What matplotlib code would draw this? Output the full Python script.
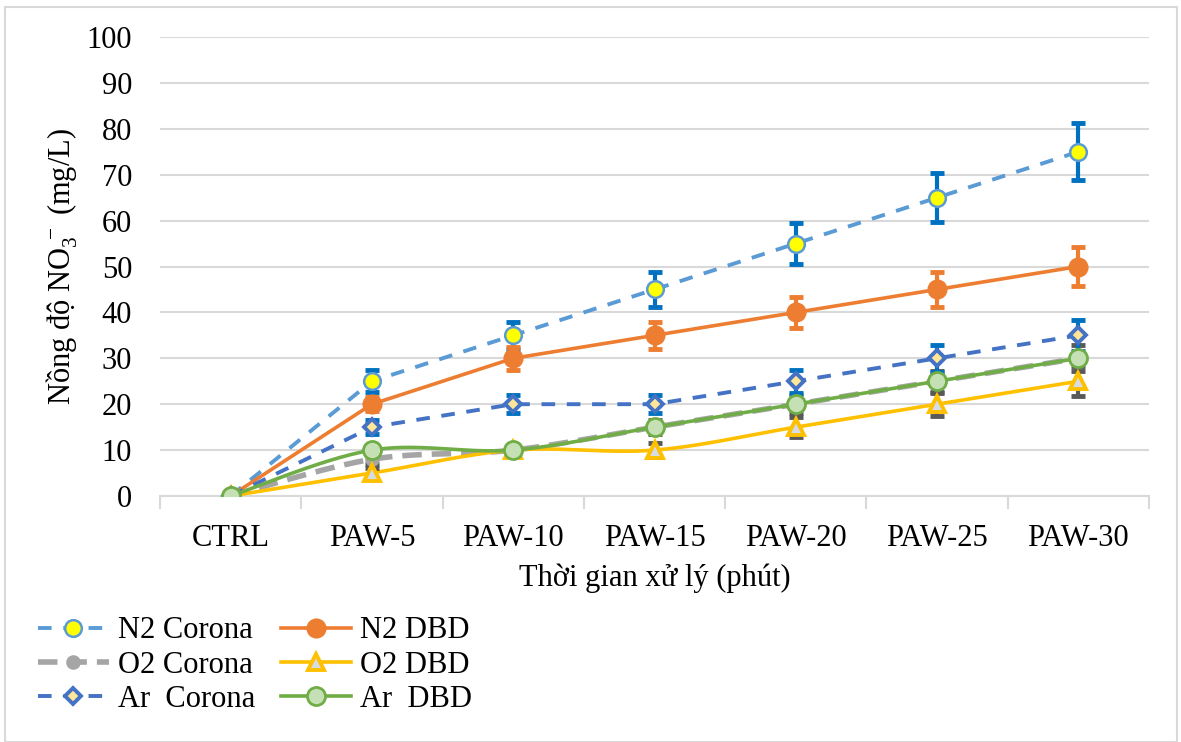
import numpy as np
import matplotlib
matplotlib.use("Agg")
import matplotlib.pyplot as plt
from matplotlib.patches import Rectangle
from matplotlib.lines import Line2D

plt.rcParams['font.family'] = ['Liberation Serif', 'DejaVu Serif']
plt.rcParams['mathtext.fontset'] = 'custom'
plt.rcParams['mathtext.rm'] = 'Liberation Serif'

categories = ["CTRL", "PAW-5", "PAW-10", "PAW-15", "PAW-20", "PAW-25", "PAW-30"]

n2_corona = [0, 25, 35, 45, 55, 65, 75]
n2_corona_err = [0, 2.4, 3.0, 3.8, 4.5, 5.4, 6.2]
n2_dbd = [0, 20, 30, 35, 40, 45, 50]
n2_dbd_err = [0, 1.5, 2.5, 3.0, 3.3, 3.8, 4.2]
o2_corona = [0, 8, 10, 15, 20, 25, 30]
o2_corona_err = [0, 1.0, 1.2, 1.5, 2.0, 2.3, 2.8]
o2_dbd = [0, 5, 10, 10, 15, 20, 25]
o2_dbd_err = [0, 1.0, 1.0, 1.5, 2.2, 2.5, 3.3]
ar_corona = [0, 15, 20, 20, 25, 30, 35]
ar_corona_err = [0, 1.5, 2.0, 2.0, 2.5, 2.9, 3.4]
ar_dbd = [0, 10, 10, 15, 20, 25, 30]

yticks = [0, 10, 20, 30, 40, 50, 60, 70, 80, 90, 100]

FS = 22


def smooth(xs, ys, n=30):
    xs = np.asarray(xs, float)
    ys = np.asarray(ys, float)
    P = np.column_stack([xs, ys])
    out = [P[0]]
    for i in range(len(P) - 1):
        p0 = P[i - 1] if i > 0 else P[i]
        p1 = P[i]
        p2 = P[i + 1]
        p3 = P[i + 2] if i + 2 < len(P) else P[i + 1]
        c1 = p1 + (p2 - p0) / 6.0
        c2 = p2 - (p3 - p1) / 6.0
        t = np.linspace(0, 1, n)[1:, None]
        seg = ((1 - t) ** 3) * p1 + 3 * ((1 - t) ** 2) * t * c1 + 3 * (1 - t) * t ** 2 * c2 + t ** 3 * p2
        out.extend(seg)
    out = np.array(out)
    return out[:, 0], out[:, 1]


W, H = 1181, 742
fig = plt.figure(figsize=(W / 100, H / 100), dpi=100)
fig.patches.append(Rectangle((5 / W, 0), (1177 - 5) / W, 1 - 7 / H, transform=fig.transFigure,
                             fill=False, edgecolor='#D9D9D9', lw=1.5))
ax = fig.add_axes([160 / W, 1 - 496 / H, (1149 - 160) / W, (496 - 37) / H])

x = np.arange(len(categories))

series = [
    dict(y=n2_corona, err=n2_corona_err, label='N2 Corona', color='#5B9BD5', ls=(0, (3.5, 3)), lw=2.8,
         marker='o', ms=12, mfc='#FFFF00', mec='#5B9BD5', mew=1.8, ecolor='#0070C0', smooth=False),
    dict(y=n2_dbd, err=n2_dbd_err, label='N2 DBD', color='#ED7D31', ls='-', lw=2.6,
         marker='o', ms=13, mfc='#ED7D31', mec='#ED7D31', mew=1.5, ecolor='#ED7D31', smooth=False),
    dict(y=o2_corona, err=o2_corona_err, label='O2 Corona', color='#A5A5A5', ls=(0, (3.5, 1.8)), lw=4,
         marker='o', ms=9, mfc='#A5A5A5', mec='#A5A5A5', mew=1.5, ecolor='#595959', smooth=True),
    dict(y=o2_dbd, err=o2_dbd_err, label='O2 DBD', color='#FFC000', ls='-', lw=2.6,
         marker='^', ms=12, mfc='#D6DCE5', mec='#FFC000', mew=2.8, ecolor='#595959', smooth=True),
    dict(y=ar_corona, err=ar_corona_err, label='Ar  Corona', color='#4472C4', ls=(0, (3.5, 3)), lw=2.8,
         marker='D', ms=8, mfc='#FFE699', mec='#4472C4', mew=2.8, ecolor='#0070C0', smooth=False),
    dict(y=ar_dbd, err=None, label='Ar  DBD', color='#70AD47', ls='-', lw=2.6,
         marker='o', ms=13, mfc='#C5E0B4', mec='#70AD47', mew=2.0, ecolor='#70AD47', smooth=True),
]

handles = []
for i, s in enumerate(series):
    z = 3 + i
    if s['smooth']:
        sx, sy = smooth(x, s['y'])
    else:
        sx, sy = x, s['y']
    ax.plot(sx, sy, color=s['color'], ls=s['ls'], lw=s['lw'], zorder=z, solid_capstyle='butt',
            dash_capstyle='butt')
    if s['err'] is not None:
        ax.errorbar(x[1:], s['y'][1:], yerr=s['err'][1:], fmt='none', ecolor=s['ecolor'],
                    elinewidth=3, capsize=5, capthick=3.5, zorder=z)
    ax.plot(x, s['y'], ls='none', marker=s['marker'], ms=s['ms'], mfc=s['mfc'], mec=s['mec'],
            mew=s['mew'], zorder=z + 0.5)
    handles.append(Line2D([], [], color=s['color'], ls=s['ls'], lw=s['lw'], marker=s['marker'],
                          ms=s['ms'], mfc=s['mfc'], mec=s['mec'], mew=s['mew'], label=s['label']))

ax.set_xlim(-0.5, len(categories) - 0.5)
ax.set_ylim(0, 100)
ax.set_yticks(yticks)
ax.set_yticklabels([str(v) for v in yticks], fontsize=FS)
ax.set_xticks(x)
ax.set_xticklabels(categories, fontsize=FS)
ax.tick_params(axis='y', length=0, pad=20)
ax.tick_params(axis='x', length=0, pad=20)
ax.set_xticks(np.arange(-0.5, len(categories), 1), minor=True)
ax.tick_params(axis='x', which='minor', length=9, color='#D9D9D9', width=1.5)
ax.grid(axis='y', color='#D9D9D9', lw=1.5, zorder=0)
ax.set_axisbelow(True)
for side in ['top', 'right', 'left']:
    ax.spines[side].set_visible(False)
ax.spines['bottom'].set_color('#D9D9D9')
ax.spines['bottom'].set_linewidth(1.5)

ax.set_xlabel('Thời gian xử lý (phút)', fontsize=FS, labelpad=8)
ax.set_ylabel(r'Nồng độ NO$\mathregular{_3^{\,-}}$ (mg/L)', fontsize=FS, labelpad=5)

order = [0, 2, 4, 1, 3, 5]
leg = fig.legend([handles[i] for i in order], [handles[i].get_label() for i in order],
                 loc='upper left', bbox_to_anchor=(20 / W, 1 - 598 / H), ncol=2, frameon=False,
                 fontsize=FS, handlelength=2.3, handletextpad=0.3, columnspacing=0.85,
                 labelspacing=0.17, borderpad=0.1)

fig.savefig('out.png', dpi=100)
